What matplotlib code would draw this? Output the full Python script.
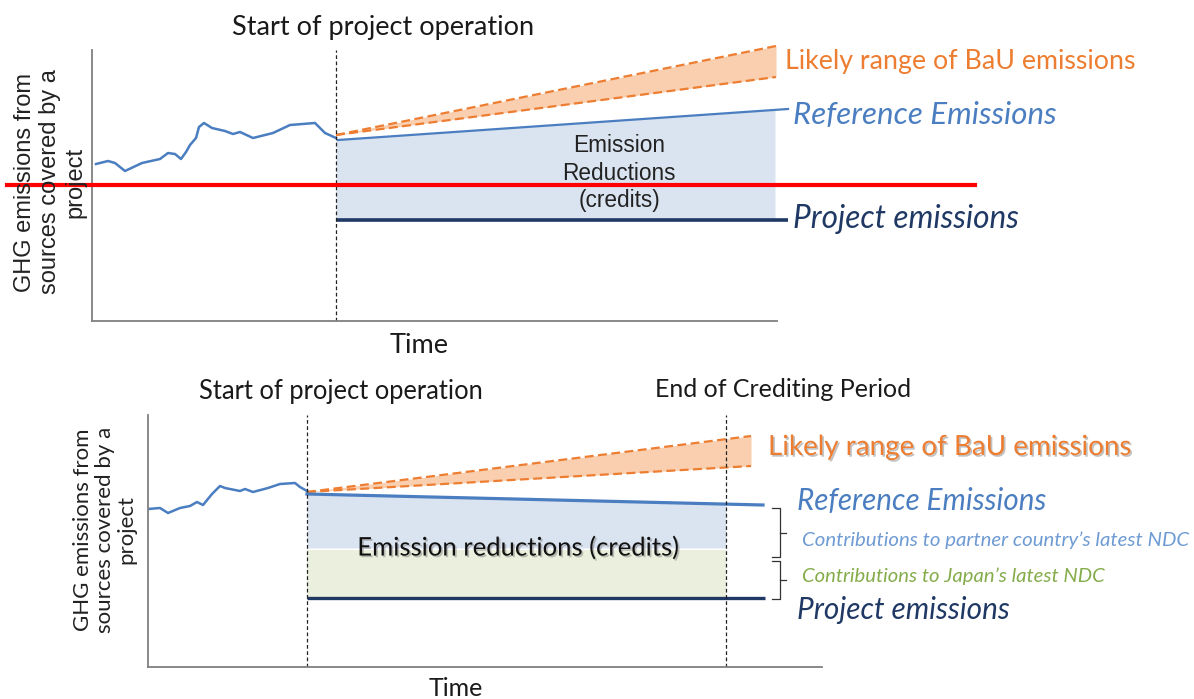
import matplotlib
matplotlib.use("Agg")
import matplotlib.pyplot as plt
import matplotlib.patheffects as pe
from matplotlib.lines import Line2D

W, H = 1194, 699

# ---------------- data (arbitrary emission units) ----------------
# Top panel
top_hist_t = [4, 16, 23, 33, 50, 68, 76, 83, 89, 94, 98, 104, 107, 112, 120, 133, 141,
              148, 161, 181, 198, 223, 226, 233, 244]
top_hist_e = [157, 160, 158, 150, 158, 162, 168, 167, 162, 169, 176, 183, 194, 198, 193,
              190, 187, 189, 183, 188, 196, 198, 195, 188, 183]
top_start = 244
top_bau_t = [244, 684]
top_bau_hi = [186, 275]
top_bau_lo = [186, 244]
top_ref_t = [246, 696]
top_ref_e = [181, 212]
top_fill_end = 683
top_proj_t = [244, 696]
top_proj_e = [101, 101]

# Bottom panel
bot_hist_t = [0, 12, 20, 32, 42, 49, 55, 64, 72, 77, 92, 97, 105, 120, 132, 147, 152, 159]
bot_hist_e = [158, 159, 154, 159, 161, 165, 162, 173, 181, 179, 176, 178, 175, 179, 183,
              184, 180, 176]
bot_start = 159
bot_end = 578
bot_bau_t = [159, 603]
bot_bau_hi = [175, 231]
bot_bau_lo = [175, 201]
bot_ref_t = [159, 615]
bot_ref_e = [173, 162]
bot_partner_floor = 119
bot_japan_top = 117
bot_proj_t = [159, 617]
bot_proj_e = [69, 69]

# colours
ORANGE = "#ED7D31"
PEACH = "#F9CFAF"
BLUE = "#4A7EC0"
BLUEFILL = "#DAE3F0"
GREENFILL = "#EBEFDD"
NAVY = "#1F3864"
LIGHTBLUE = "#6E9BD3"
GREEN = "#84AC4A"
SPINE = "#7F7F7F"

CAL = ["Lato", "DejaVu Sans"]
ARIAL = ["Liberation Sans", "DejaVu Sans"]

fig = plt.figure(figsize=(W / 100, H / 100), dpi=100)


def axes_px(left, top, right, bottom):
    return fig.add_axes([left / W, 1 - bottom / H, (right - left) / W, (bottom - top) / H])


def ftext(px, py, s, **kw):
    fig.text(px / W, 1 - py / H, s, **kw)


def style(ax, xmax, ymax):
    ax.set_xlim(0, xmax)
    ax.set_ylim(0, ymax)
    ax.set_xticks([])
    ax.set_yticks([])
    for sp in ("top", "right"):
        ax.spines[sp].set_visible(False)
    for sp in ("left", "bottom"):
        ax.spines[sp].set_color(SPINE)
        ax.spines[sp].set_linewidth(1.3)
    ax.patch.set_alpha(0)


# ---------------- top panel ----------------
ax1 = axes_px(92, 50, 777, 321)
style(ax1, 685, 271)
ax1.fill_between(top_bau_t, top_bau_lo, top_bau_hi, color=PEACH, lw=0, clip_on=False)
ax1.plot(top_bau_t, top_bau_hi, color=ORANGE, lw=1.6, ls=(0, (4, 2)), clip_on=False)
ax1.plot(top_bau_t, top_bau_lo, color=ORANGE, lw=1.6, ls=(0, (4, 2)), clip_on=False)
ref_at_end = top_ref_e[0] + (top_ref_e[1] - top_ref_e[0]) * (top_fill_end - top_ref_t[0]) / (top_ref_t[1] - top_ref_t[0])
ax1.fill_between([top_start, top_fill_end], [top_ref_e[0], ref_at_end], [top_proj_e[0]] * 2,
                 color=BLUEFILL, lw=0)
ax1.plot(top_ref_t, top_ref_e, color=BLUE, lw=1.6, clip_on=False)
ax1.plot(top_proj_t, top_proj_e, color=NAVY, lw=2.6, clip_on=False, solid_capstyle="butt")
ax1.plot(top_hist_t, top_hist_e, color=BLUE, lw=1.8)
ax1.axvline(top_start, color="#222222", lw=0.9, ls=(0, (3, 2)))

ftext(383, 27, "Start of project operation", family=CAL, fontsize=19.5, ha="center", va="center", color="#1a1a1a")
ftext(419, 346, "Time", family=CAL, fontsize=19.5, ha="center", va="center", color="#1a1a1a")
ftext(619, 173, "Emission\nReductions\n(credits)", family=ARIAL, fontsize=16.3, ha="center", va="center",
      color="#222222", linespacing=1.27)
ftext(785, 61, "Likely range of BaU emissions", family=CAL, fontsize=19.3, ha="left", va="center", color=ORANGE)
ftext(793, 115, "Reference Emissions", family=CAL, fontsize=22.5, style="italic", ha="left", va="center", color=BLUE)
ftext(793, 219, "Project emissions", family=CAL, fontsize=22.8, style="italic", ha="left", va="center", color=NAVY)
ftext(50, 182, "GHG emissions from\nsources covered by a\nproject", family=ARIAL, fontsize=17, rotation=90,
      ha="center", va="center", color="#222222", linespacing=1.2)

# ---------------- bottom panel ----------------
ax2 = axes_px(148, 415, 822, 667)
style(ax2, 674, 252)
ax2.fill_between(bot_bau_t, bot_bau_lo, bot_bau_hi, color=PEACH, lw=0, clip_on=False)
ax2.plot(bot_bau_t, bot_bau_hi, color=ORANGE, lw=1.6, ls=(0, (4, 2)), clip_on=False)
ax2.plot(bot_bau_t, bot_bau_lo, color=ORANGE, lw=1.6, ls=(0, (4, 2)), clip_on=False)
ref_at_bend = bot_ref_e[0] + (bot_ref_e[1] - bot_ref_e[0]) * (bot_end - bot_ref_t[0]) / (bot_ref_t[1] - bot_ref_t[0])
ax2.fill_between([bot_start, bot_end], [bot_ref_e[0], ref_at_bend], [bot_partner_floor] * 2,
                 color=BLUEFILL, lw=0)
ax2.fill_between([bot_start, bot_end], [bot_japan_top] * 2, [bot_proj_e[0]] * 2, color=GREENFILL, lw=0)
ax2.plot(bot_ref_t, bot_ref_e, color=BLUE, lw=2.3, clip_on=False)
ax2.plot(bot_proj_t, bot_proj_e, color=NAVY, lw=2.4, clip_on=False, solid_capstyle="butt")
ax2.plot(bot_hist_t, bot_hist_e, color=BLUE, lw=1.8)
ax2.axvline(bot_start, color="#222222", lw=0.9, ls=(0, (3, 2)))
ax2.axvline(bot_end, color="#222222", lw=0.9, ls=(0, (3, 2)))

# brackets
for y_top, y_bot in [(159, 110), (106, 68)]:
    ym = (y_top + y_bot) / 2
    ax2.plot([624, 632, 632, 624], [y_top, y_top, y_bot, y_bot], color="#333333", lw=0.9, clip_on=False)
    ax2.plot([632, 638], [ym, ym], color="#333333", lw=0.9, clip_on=False)

shadow = [pe.withSimplePatchShadow(offset=(1.2, -1.2), shadow_rgbFace="#777777", alpha=0.45)]
ftext(341, 392, "Start of project operation", family=CAL, fontsize=18.4, ha="center", va="center", color="#1a1a1a")
ftext(783, 390, "End of Crediting Period", family=CAL, fontsize=18, ha="center", va="center", color="#1a1a1a")
ftext(456, 689, "Time", family=CAL, fontsize=18, ha="center", va="center", color="#1a1a1a")
ftext(519, 548, "Emission reductions (credits)", family=CAL, fontsize=18.5, ha="center", va="center",
      color="#111111", path_effects=shadow)
ftext(768, 447, "Likely range of BaU emissions", family=CAL, fontsize=20, ha="left", va="center",
      color=ORANGE, path_effects=shadow)
ftext(797, 501, "Reference Emissions", family=CAL, fontsize=21.3, style="italic", ha="left", va="center", color=BLUE)
ftext(802, 540, "Contributions to partner country\u2019s latest NDC", family=CAL, fontsize=14.7, style="italic",
      ha="left", va="center", color=LIGHTBLUE)
ftext(802, 576, "Contributions to Japan\u2019s latest NDC", family=CAL, fontsize=14.6, style="italic",
      ha="left", va="center", color=GREEN)
ftext(797, 610, "Project emissions", family=CAL, fontsize=21.4, style="italic", ha="left", va="center", color=NAVY)
ftext(105, 530, "GHG emissions from\nsources covered by a\nproject", family=CAL, fontsize=16, rotation=90,
      ha="center", va="center", color="#222222", linespacing=1.1)

# red horizontal line drawn across the figure
fig.add_artist(Line2D([7 / W, 975 / W], [1 - 185 / H, 1 - 185 / H], color="#FF0000", lw=3, transform=fig.transFigure))

fig.savefig("out.png", dpi=100)
